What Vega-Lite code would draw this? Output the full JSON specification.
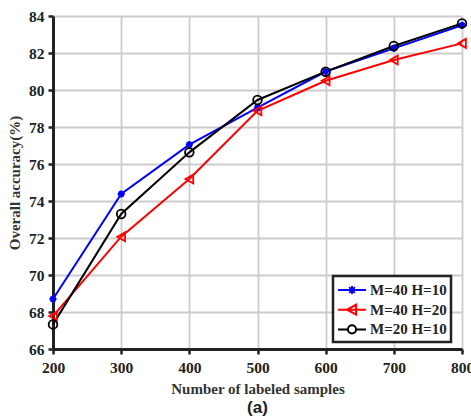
{
  "$schema": "https://vega.github.io/schema/vega-lite/v6.json",
  "width": 409,
  "height": 333,
  "autosize": {"type": "none"},
  "padding": {"left": 53, "top": 16, "right": 9, "bottom": 70},
  "background": "white",
  "title": {"text": "(a)", "orient": "bottom", "anchor": "middle", "font": "Liberation Sans", "fontWeight": "bold", "fontSize": 17, "color": "#222", "offset": 3},
  "config": {
    "view": {"stroke": null}
  },
  "data": {"values": [
    {"n": 200, "acc": 68.7, "s": "M=40 H=10"},
    {"n": 300, "acc": 74.38, "s": "M=40 H=10"},
    {"n": 400, "acc": 77.05, "s": "M=40 H=10"},
    {"n": 500, "acc": 79.05, "s": "M=40 H=10"},
    {"n": 600, "acc": 81.0, "s": "M=40 H=10"},
    {"n": 700, "acc": 82.25, "s": "M=40 H=10"},
    {"n": 800, "acc": 83.5, "s": "M=40 H=10"},
    {"n": 200, "acc": 67.78, "s": "M=40 H=20"},
    {"n": 300, "acc": 72.07, "s": "M=40 H=20"},
    {"n": 400, "acc": 75.19, "s": "M=40 H=20"},
    {"n": 500, "acc": 78.88, "s": "M=40 H=20"},
    {"n": 600, "acc": 80.5, "s": "M=40 H=20"},
    {"n": 700, "acc": 81.62, "s": "M=40 H=20"},
    {"n": 800, "acc": 82.52, "s": "M=40 H=20"},
    {"n": 200, "acc": 67.33, "s": "M=20 H=10"},
    {"n": 300, "acc": 73.3, "s": "M=20 H=10"},
    {"n": 400, "acc": 76.63, "s": "M=20 H=10"},
    {"n": 500, "acc": 79.46, "s": "M=20 H=10"},
    {"n": 600, "acc": 80.99, "s": "M=20 H=10"},
    {"n": 700, "acc": 82.38, "s": "M=20 H=10"},
    {"n": 800, "acc": 83.6, "s": "M=20 H=10"}
  ]},
  "encoding": {
    "x": {"field": "n", "type": "quantitative", "scale": {"domain": [200, 800], "nice": false, "zero": false},
      "axis": {"values": [200, 300, 400, 500, 600, 700, 800], "title": "Number of labeled samples", "grid": true, "labelFlush": false, "labelOverlap": false,
        "labelFont": "Liberation Serif", "labelFontWeight": "bold", "labelFontSize": 15.5, "labelColor": "#222",
        "titleFont": "Liberation Serif", "titleFontWeight": "bold", "titleFontSize": 15, "titleColor": "#333",
        "domainColor": "#222", "domainWidth": 3, "tickColor": "#222", "tickWidth": 2.5, "tickSize": 5,
        "gridColor": "#cccccc", "gridOpacity": 1, "gridWidth": 1.8, "labelPadding": 6, "titlePadding": 6}},
    "y": {"field": "acc", "type": "quantitative", "scale": {"domain": [66, 84], "nice": false, "zero": false},
      "axis": {"values": [66, 68, 70, 72, 74, 76, 78, 80, 82, 84], "title": "Overall accuracy(%)", "grid": true, "labelFlush": false, "labelOverlap": false,
        "labelFont": "Liberation Serif", "labelFontWeight": "bold", "labelFontSize": 15.5, "labelColor": "#222",
        "titleFont": "Liberation Serif", "titleFontWeight": "bold", "titleFontSize": 15, "titleColor": "#333",
        "domainColor": "#222", "domainWidth": 3, "tickColor": "#222", "tickWidth": 2.5, "tickSize": 5,
        "gridColor": "#cccccc", "gridOpacity": 1, "gridWidth": 1.8, "labelPadding": 4, "titlePadding": 6}},
    "color": {"field": "s", "type": "nominal",
      "scale": {"domain": ["M=40 H=10", "M=40 H=20", "M=20 H=10"], "range": ["#0000ff", "#ff0000", "#000000"]},
      "legend": {"title": null, "orient": "none", "legendX": 280, "legendY": 260,
        "fillColor": "white", "strokeColor": "#222", "padding": 4,
        "labelFont": "Liberation Serif", "labelFontWeight": "bold", "labelFontSize": 15, "labelColor": "#222",
        "symbolSize": 324, "symbolStrokeWidth": 2, "symbolFillColor": "transparent", "symbolOffset": 5, "labelOffset": 8, "rowPadding": 0.7,
        "encode": {
          "legend": {"update": {"strokeWidth": {"value": 2.5}}},
          "symbols": {"update": {"shape": {"signal": "datum.value === 'M=40 H=10' ? 'M-1.55,0L1.55,0M-0.45,0L0.45,0M0,-0.45L0,0.45M-0.32,-0.32L0.32,0.32M-0.32,0.32L0.32,-0.32' : datum.value === 'M=40 H=20' ? 'M-1.55,0L1.55,0M-0.55,0L0.45,-0.55L0.45,0.55Z' : 'M-1.55,0L-0.45,0M0.45,0L1.55,0M0.45,0A0.45,0.45,0,1,1,-0.45,0A0.45,0.45,0,1,1,0.45,0Z'"}}}}
      }
    }
  },
  "layer": [
    {"mark": {"type": "line", "strokeWidth": 2}},
    {"transform": [{"filter": "datum.s === 'M=40 H=10'"}],
      "mark": {"type": "point", "filled": false, "strokeWidth": 2, "opacity": 1, "size": 50, "shape": "M-1,0L1,0M0,-1L0,1M-0.7,-0.7L0.7,0.7M-0.7,0.7L0.7,-0.7"}},
    {"transform": [{"filter": "datum.s === 'M=40 H=20'"}],
      "mark": {"type": "point", "filled": false, "strokeWidth": 1.8, "opacity": 1, "size": 80, "shape": "triangle-left"}},
    {"transform": [{"filter": "datum.s === 'M=20 H=10'"}],
      "mark": {"type": "point", "filled": false, "strokeWidth": 1.8, "opacity": 1, "size": 75, "shape": "circle"}}
  ]
}
